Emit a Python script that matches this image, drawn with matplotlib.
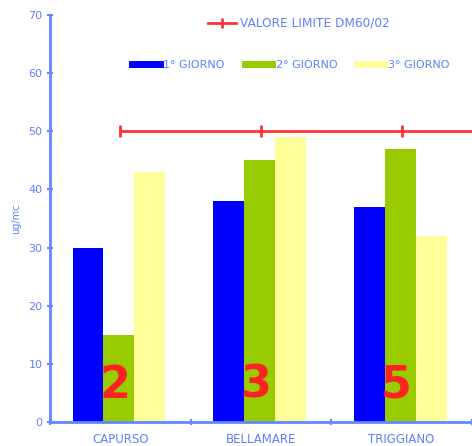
import matplotlib
matplotlib.use("Agg")
import matplotlib.pyplot as plt
from matplotlib.lines import Line2D
import numpy as np

categories = ["CAPURSO", "BELLAMARE", "TRIGGIANO"]
giorno1 = [30, 38, 37]
giorno2 = [15, 45, 47]
giorno3 = [43, 49, 32]
limite = [50, 50, 50, 50]
numbers = ["2", "3", "5"]
series_names = ["1° GIORNO", "2° GIORNO", "3° GIORNO"]
limit_name = "VALORE LIMITE DM60/02"

txt = "#5f7fff"
axc = "#6688ff"
fig = plt.figure(figsize=(4.72, 4.46), dpi=100)
ax = fig.add_axes([0.106, 0.054, 0.894, 0.912])

x = np.arange(len(categories))
w = 0.22
cols = ["#0000ff", "#99cc00", "#ffff99"]
for i, (vals, c) in enumerate(zip([giorno1, giorno2, giorno3], cols)):
    ax.bar(x + (i - 1) * w - 0.01, vals, w, color=c, zorder=2)

xl = np.arange(len(limite))
ax.plot(xl, limite, color="#ff3333", lw=2, marker="|", ms=8, mew=2, zorder=3, clip_on=True)

for xi, n in zip(x, numbers):
    ax.text(xi - 0.04, 6.3, n, color="#ff2222", fontsize=32, ha="center", va="center",
            fontweight="bold", zorder=4)

ax.set_xlim(-0.5, 2.5)
ax.set_ylim(0, 70)
ax.set_yticks(range(0, 71, 10))
ax.set_xticks([-0.5, 0.5, 1.5, 2.5])
ax.set_xticklabels([])
ax.set_xticks(x, minor=True)
ax.set_xticklabels(categories, minor=True)
ax.tick_params(axis="x", which="minor", length=0, pad=8, labelsize=8.5, labelcolor=txt)
ax.tick_params(axis="x", which="major", direction="inout", length=5, color=axc, width=1.5)
ax.tick_params(axis="y", direction="inout", length=5, color=axc, width=1.5, labelsize=8,
               labelcolor=txt, pad=3)
for s in ["top", "right"]:
    ax.spines[s].set_visible(False)
for s in ["left", "bottom"]:
    ax.spines[s].set_color(axc)
    ax.spines[s].set_linewidth(2)
ax.set_ylabel("ug/mc", color=txt, fontsize=7, labelpad=5)

h1 = [Line2D([0], [0], color="#ff3333", lw=2, marker="|", ms=7, mew=2)]
leg1 = ax.legend(h1, [limit_name], loc="center", bbox_to_anchor=(0.59, 0.98),
                 frameon=False, fontsize=8.7, labelcolor=txt, handlelength=2.3,
                 handletextpad=0.3)
ax.add_artist(leg1)
h2 = [Line2D([0], [0], color=c, lw=5) for c in cols]
ax.legend(h2, series_names, loc="center", bbox_to_anchor=(0.571, 0.877), ncol=3,
          frameon=False, fontsize=8, labelcolor=txt, handlelength=2.5, handletextpad=0.3,
          columnspacing=1.8)

fig.savefig("out.png", dpi=100)
